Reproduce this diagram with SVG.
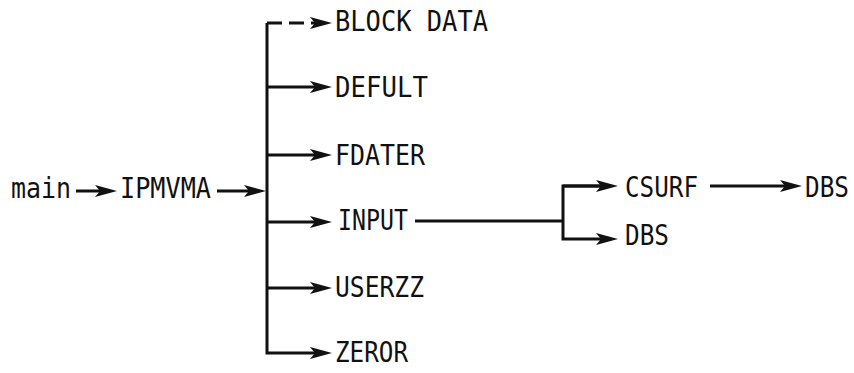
<svg xmlns="http://www.w3.org/2000/svg" width="854" height="373" viewBox="0 0 854 373">
<style>
text{font-family:"DejaVu Sans Mono","Liberation Mono",monospace;font-size:28px;fill:#111}
.c{fill:none;stroke:#111;stroke-width:3}
.d{stroke-dasharray:15 7}
</style>
<defs>
<marker id="ah" markerUnits="userSpaceOnUse" markerWidth="24" markerHeight="14" refX="12" refY="6" orient="auto" overflow="visible">
<path d="M0,0 L22,6 L0,12 L5,6 Z" fill="#111"/>
</marker>
</defs>
<rect width="854" height="373" fill="#fff"/>
<g id="connectors">
<path class="c" d="M76,191 H107" marker-end="url(#ah)"/>
<path class="c" d="M217,191 H256" marker-end="url(#ah)"/>
<path class="c" d="M267,23 V353 H322" marker-end="url(#ah)"/>
<path class="c d" d="M267,23 H322" marker-end="url(#ah)"/>
<path class="c" d="M267,87 H322" marker-end="url(#ah)"/>
<path class="c" d="M267,155 H322" marker-end="url(#ah)"/>
<path class="c" d="M267,222 H322" marker-end="url(#ah)"/>
<path class="c" d="M267,288 H322" marker-end="url(#ah)"/>
<path class="c" d="M415,221 H563"/>
<path class="c" d="M608,186 H563 V239 H608" marker-end="url(#ah)"/>
<path class="c" d="M563,186 H608" marker-end="url(#ah)"/>
<path class="c" d="M710,186 H792" marker-end="url(#ah)"/>
</g>
<g id="main"><text x="11" y="198" textLength="60" lengthAdjust="spacingAndGlyphs">main</text></g>
<g id="IPMVMA"><text x="120" y="198" textLength="91" lengthAdjust="spacingAndGlyphs">IPMVMA</text></g>
<g id="BLOCK_DATA"><text x="335" y="31" textLength="153" lengthAdjust="spacingAndGlyphs">BLOCK DATA</text></g>
<g id="DEFULT"><text x="335" y="97" textLength="93" lengthAdjust="spacingAndGlyphs">DEFULT</text></g>
<g id="FDATER"><text x="335" y="165" textLength="90" lengthAdjust="spacingAndGlyphs">FDATER</text></g>
<g id="INPUT"><text x="338" y="230" textLength="70" lengthAdjust="spacingAndGlyphs">INPUT</text></g>
<g id="USERZZ"><text x="335" y="297" textLength="89" lengthAdjust="spacingAndGlyphs">USERZZ</text></g>
<g id="ZEROR"><text x="335" y="362" textLength="73" lengthAdjust="spacingAndGlyphs">ZEROR</text></g>
<g id="CSURF"><text x="625" y="197" textLength="73" lengthAdjust="spacingAndGlyphs">CSURF</text></g>
<g id="DBS_1"><text x="625" y="245" textLength="44" lengthAdjust="spacingAndGlyphs">DBS</text></g>
<g id="DBS_2"><text x="805" y="197" textLength="44" lengthAdjust="spacingAndGlyphs">DBS</text></g>
</svg>
